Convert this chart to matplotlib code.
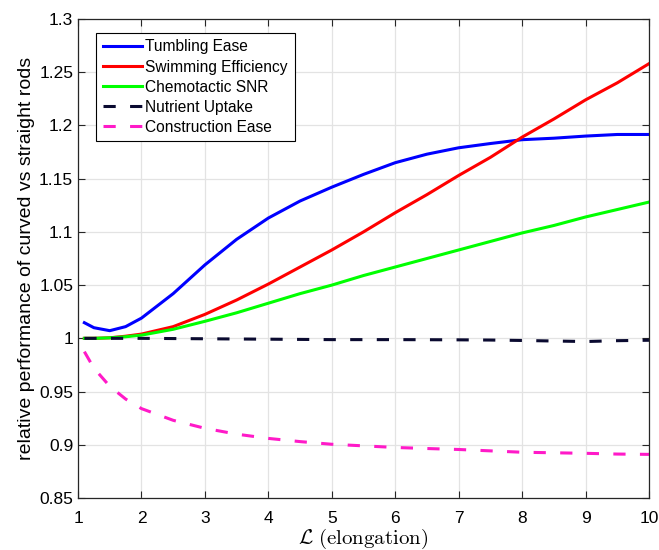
import matplotlib

matplotlib.use("Agg")
import matplotlib.pyplot as plt

plt.rcParams["font.family"] = ["Liberation Sans", "DejaVu Sans"]
plt.rcParams["mathtext.fontset"] = "cm"

# 横軸: elongation L
elongation = [1.1, 1.25, 1.5, 1.75, 2, 2.5, 3, 3.5, 4, 4.5, 5, 5.5,
              6, 6.5, 7, 7.5, 8, 8.5, 9, 9.5, 10]

tumbling = [1.0147, 1.010, 1.0072, 1.011, 1.019, 1.042, 1.069, 1.093,
            1.113, 1.129, 1.142, 1.154, 1.165, 1.173, 1.179, 1.183,
            1.1866, 1.188, 1.190, 1.1915, 1.1915]
swimming = [1.0, 1.0, 1.0005, 1.002, 1.004, 1.011, 1.0225, 1.036, 1.051,
            1.067, 1.083, 1.100, 1.118, 1.135, 1.153, 1.170, 1.189, 1.206,
            1.224, 1.240, 1.258]
chemotactic = [1.0, 1.0, 1.0005, 1.0015, 1.003, 1.0085, 1.016, 1.024,
               1.033, 1.042, 1.050, 1.059, 1.067, 1.075, 1.083, 1.091,
               1.099, 1.106, 1.114, 1.121, 1.128]
nutrient = [1.0, 1.0, 1.0, 1.0, 1.0, 0.9998, 0.9996, 0.9994, 0.9992,
            0.999, 0.9988, 0.9988, 0.9988, 0.9987, 0.9986, 0.9984, 0.998,
            0.9975, 0.997, 0.9978, 0.9982]
construction = [0.9875, 0.972, 0.955, 0.943, 0.934, 0.923, 0.9155, 0.910,
                0.906, 0.903, 0.9005, 0.899, 0.8975, 0.8965, 0.8956,
                0.8943, 0.893, 0.8925, 0.892, 0.8913, 0.891]

series = [
    ("Tumbling Ease", tumbling, "#0000ff", "-"),
    ("Swimming Efficiency", swimming, "#ff0000", "-"),
    ("Chemotactic SNR", chemotactic, "#00ff00", "-"),
    ("Nutrient Uptake", nutrient, "#0a0a30", (0, (4, 4.7))),
    ("Construction Ease", construction, "#ff1ac8", (0, (4, 4.7))),
]

fig = plt.figure(figsize=(6.59, 5.5), dpi=100)
ax = fig.add_axes([0.1184, 0.0945, 0.8664, 0.871])

for label, vals, color, ls in series:
    ax.plot(elongation, vals, color=color, ls=ls, lw=2.2, label=label)

ax.set_xlim(1, 10)
ax.set_ylim(0.85, 1.3)
ax.set_xticks(range(1, 11))
ax.set_yticks([0.85, 0.9, 0.95, 1.0, 1.05, 1.1, 1.15, 1.2, 1.25, 1.3])
ax.set_yticklabels(["0.85", "0.9", "0.95", "1", "1.05", "1.1", "1.15",
                    "1.2", "1.25", "1.3"])
ax.tick_params(direction="in", top=True, right=True, labelsize=12.5,
               length=5, width=0.8, color="#262626")
ax.tick_params(axis="x", pad=9)
ax.tick_params(axis="y", pad=3.5)
ax.grid(color="#e3e3e3", lw=0.9)
ax.set_axisbelow(True)
for sp in ax.spines.values():
    sp.set_color("#262626")
    sp.set_linewidth(0.9)

ax.set_xlabel(r"$\mathcal{L}\ \mathrm{(elongation)}$", fontsize=15,
              labelpad=1)
ax.set_ylabel("relative performance of curved vs straight rods",
              fontsize=14, labelpad=3)

leg = ax.legend(loc="upper left", bbox_to_anchor=(0.0315, 0.971),
                borderaxespad=0, fontsize=11.2, handlelength=2.56,
                handletextpad=0.2, labelspacing=0.33, borderpad=0.42,
                fancybox=False, framealpha=1)
leg.get_frame().set_edgecolor("black")
leg.get_frame().set_linewidth(0.8)

plt.savefig("out.png", dpi=100)
plt.close()
